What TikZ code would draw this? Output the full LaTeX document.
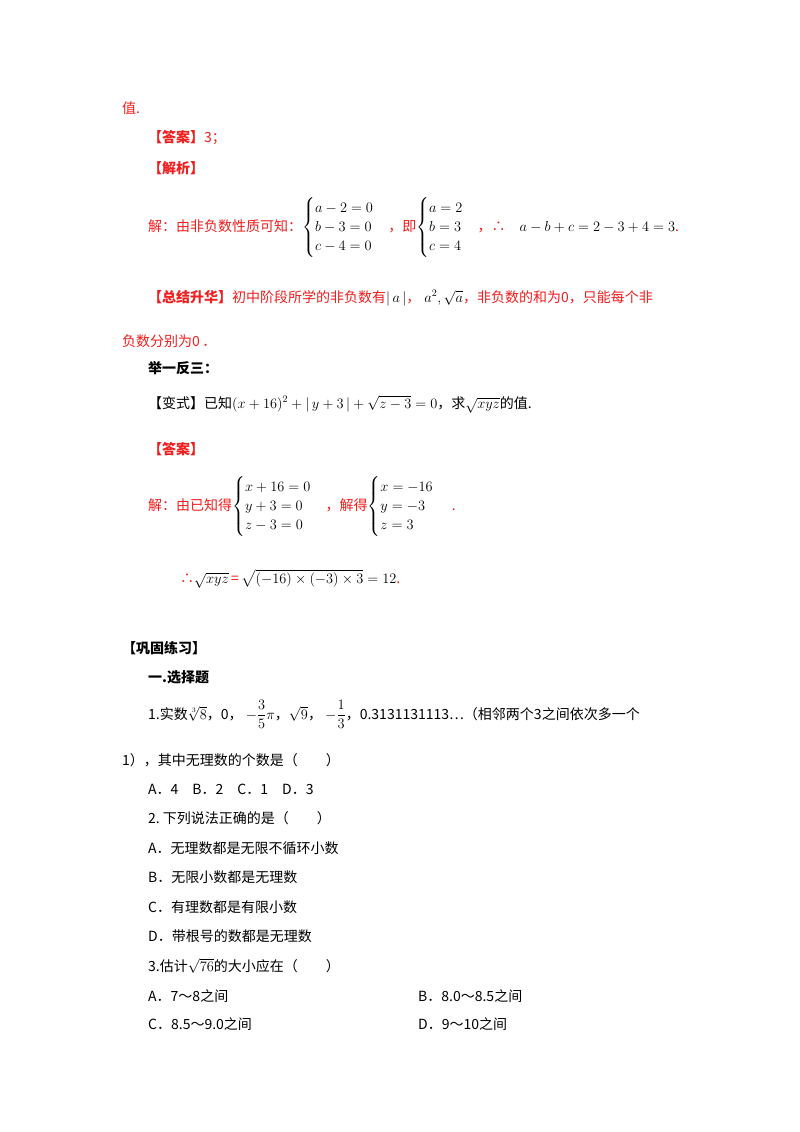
\documentclass[tikz,border=0pt]{standalone}
\usepackage{fontspec}
\usepackage{amsmath}
\newfontfamily\cjk{Noto Sans CJK SC}
\definecolor{rd}{RGB}{240,30,30}
\tikzset{
  t/.style={anchor=base west,inner sep=0pt,font=\cjk\fontsize{14}{16}\selectfont},
  r/.style={t,text=rd},
  b/.style={t,font=\cjk\bfseries\fontsize{14}{16}\selectfont}
}
\newcommand{\bk}[1]{\textcolor{black}{#1}}
\begin{document}
\begin{tikzpicture}[x=1pt,y=-1pt]
\useasboundingbox[fill=white] (0,0) rectangle (800,1132);
\renewcommand{\arraystretch}{1.45}
\node[r] (l1) at (122,113) {值.};
\node[r] (l2) at (148,142) {\textbf{【答案】}3；};
\node[r] (l3) at (148,173) {\textbf{【解析】}};
\node[r] (l4) at (148,231) {解：由非负数性质可知：\bk{$\begin{cases}a-2=0\\ b-3=0\\ c-4=0\end{cases}$}，即\bk{$\begin{cases}a=2\\ b=3\\ c=4\end{cases}$}，∴\quad\bk{$a-b+c=2-3+4=3$}.};
\node[r] (l5) at (148,302) {\textbf{【总结升华】}初中阶段所学的非负数有\bk{$|\,a\,|$}，\bk{$\;a^2,\sqrt{a}$}，非负数的和为0，只能每个非};
\node[r] (l6) at (122,346) {负数分别为0\,．};
\node[b] (l7) at (148,373) {举一反三：};
\node[t] (l8) at (148,408) {【变式】已知$(x+16)^2+|\,y+3\,|+\sqrt{z-3}=0$，求$\sqrt{xyz}$的值.};
\node[r] (l9) at (148,454) {\textbf{【答案】}};
\node[r] (l10) at (148,510) {解：由已知得\bk{$\begin{cases}x+16=0\\ y+3=0\\ z-3=0\end{cases}$}，解得\bk{$\begin{cases}x=-16\\ y=-3\\ z=3\end{cases}$}\;.};
\node[r] (l11) at (180,583) {∴\bk{$\sqrt{xyz}$}\,=\,\bk{$\sqrt{(-16)\times(-3)\times3}=12$}.};
\node[b] (l12) at (122,653) {【巩固练习】};
\node[b] (l13) at (148,682) {一.选择题};
\node[t] (l14) at (148,719) {1.实数$\sqrt[3]{8}$，0，\ $-\dfrac{3}{5}\pi$，$\sqrt{9}$，\ $-\dfrac{1}{3}$，0.3131131113…（相邻两个3之间依次多一个};
\node[t] (l15) at (122,765) {1），其中无理数的个数是（\qquad）};
\node[t] (l16) at (148,794) {A．4\quad B．2\quad C．1\quad D．3};
\node[t] (l17) at (148,823) {2.\ 下列说法正确的是（\qquad）};
\node[t] (l18) at (148,853) {A．无理数都是无限不循环小数};
\node[t] (l19) at (148,882) {B．无限小数都是无理数};
\node[t] (l20) at (148,912) {C．有理数都是有限小数};
\node[t] (l21) at (148,941) {D．带根号的数都是无理数};
\node[t] (l22) at (148,971) {3.估计$\sqrt{76}$的大小应在（\qquad）};
\node[t] (l23) at (148,1001) {A．7～8之间};
\node[t] (l24) at (418,1001) {B．8.0～8.5之间};
\node[t] (l25) at (148,1029) {C．8.5～9.0之间};
\node[t] (l26) at (418,1029) {D．9～10之间};
\end{tikzpicture}
\end{document}
